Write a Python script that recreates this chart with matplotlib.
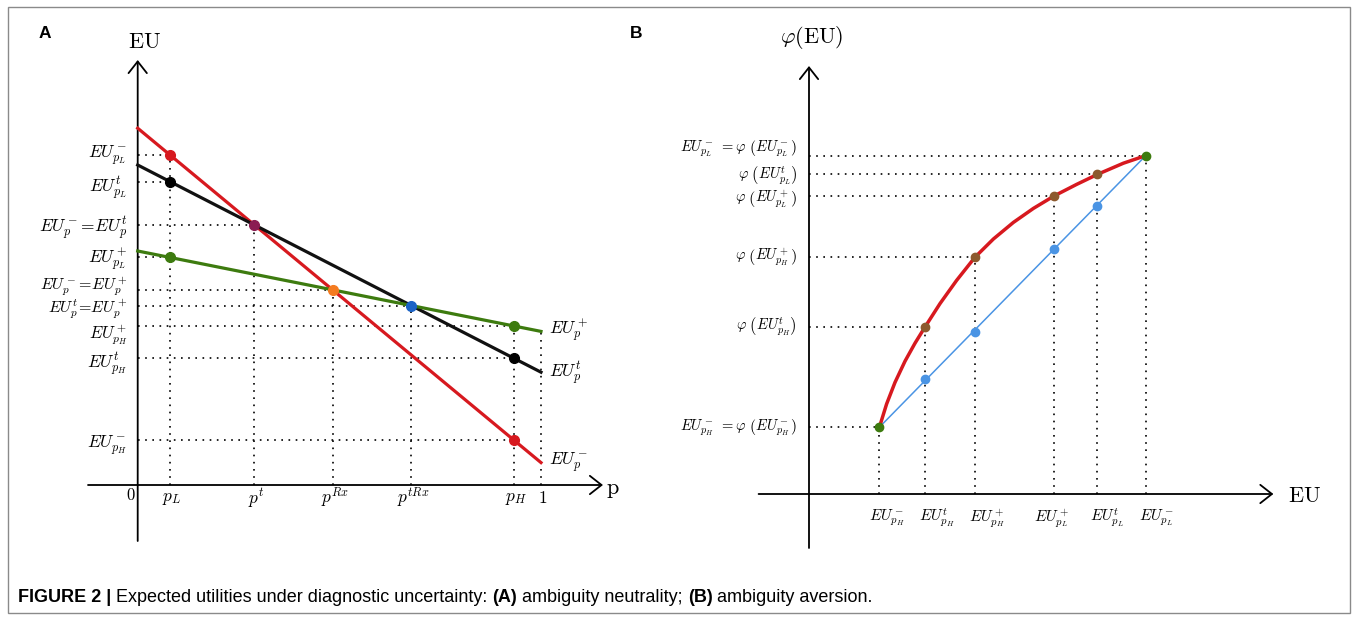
import matplotlib
matplotlib.use('Agg')
from matplotlib import pyplot as plt
from matplotlib.patches import Rectangle

W, H = 1357, 618

# ---- panel A data: p on [0,1], EU of each option at p=0 and p=1
p_L = 0.080
p_H = 0.932
eu_minus_ends = [0.892, 0.056]   # red, no treatment
eu_treat_ends = [0.800, 0.282]   # black, test
eu_plus_ends = [0.585, 0.384]    # green, treatment

# ---- panel B data
eu_b = [0.176, 0.290, 0.415, 0.612, 0.721, 0.842]
phi_b = [0.167, 0.4175, 0.592, 0.744, 0.799, 0.846]
lin_b = [0.167, 0.287, 0.406, 0.6125, 0.720, 0.846]
curve_eu = [0.176, 0.194, 0.215, 0.240, 0.265, 0.290, 0.3275, 0.369, 0.415,
            0.461, 0.511, 0.561, 0.6125, 0.669, 0.721, 0.786, 0.842]
curve_phi = [0.167, 0.225, 0.279, 0.332, 0.377, 0.4175, 0.476, 0.534, 0.592,
             0.6375, 0.679, 0.714, 0.745, 0.774, 0.799, 0.827, 0.846]

eu_b_labels = [r'$EU^-_{p_H}$', r'$EU^t_{p_H}$', r'$EU^+_{p_H}$',
               r'$EU^+_{p_L}$', r'$EU^t_{p_L}$', r'$EU^-_{p_L}$']
phi_b_labels = [r'$EU^-_{p_H}\ =\varphi\ \left(EU^-_{p_H}\right)$',
                r'$\varphi\ \left(EU^t_{p_H}\right)$',
                r'$\varphi\ \left(EU^+_{p_H}\right)$',
                r'$\varphi\ \left(EU^+_{p_L}\right)$',
                r'$\varphi\ \left(EU^t_{p_L}\right)$',
                r'$EU^-_{p_L}\ =\varphi\ \left(EU^-_{p_L}\right)$']

RED = '#d7191f'
GREEN = '#3d7b0f'
DOT = (0, (1, 3.3))

plt.rcParams['mathtext.fontset'] = 'cm'


def line_at(ends, p):
    return ends[0] + (ends[1] - ends[0]) * p


def cross(a, b):
    p = (a[0] - b[0]) / ((a[0] - a[1]) - (b[0] - b[1]))
    return p, line_at(a, p)


fig = plt.figure(figsize=(W / 100, H / 100), dpi=100)

# ================= panel A =================
axA = fig.add_axes([0, 1 - 560 / H, 660 / W, 560 / H])
axA.set_xlim(-137.7 / 403.3, (660 - 137.7) / 403.3)
axA.set_ylim(-75 / 400, 485 / 400)
axA.axis('off')

p_t, v_t = cross(eu_minus_ends, eu_treat_ends)
p_rx, v_rx = cross(eu_minus_ends, eu_plus_ends)
p_trx, v_trx = cross(eu_treat_ends, eu_plus_ends)

arrow = dict(arrowstyle='->,head_length=0.7,head_width=0.55', lw=1.3,
             color='black', shrinkA=0, shrinkB=0, mutation_scale=12)
axA.annotate('', xy=(0, 1.0625), xytext=(0, -0.14), arrowprops=arrow)
axA.annotate('', xy=(1.1537, 0), xytext=(-0.1232, 0), arrowprops=arrow)

# dotted guides
points_A = [(p_L, line_at(eu_minus_ends, p_L)),
            (p_L, line_at(eu_treat_ends, p_L)),
            (p_t, v_t),
            (p_L, line_at(eu_plus_ends, p_L)),
            (p_rx, v_rx),
            (p_trx, v_trx),
            (p_H, line_at(eu_plus_ends, p_H)),
            (p_H, line_at(eu_treat_ends, p_H)),
            (p_H, line_at(eu_minus_ends, p_H))]
for px, py in points_A:
    axA.plot([0, px], [py, py], color='black', lw=1.2, ls=DOT, zorder=1)
for px, py in [points_A[0], points_A[2], points_A[4], points_A[5], points_A[6],
               (1, eu_plus_ends[1])]:
    axA.plot([px, px], [0, py], color='black', lw=1.2, ls=DOT, zorder=1)

axA.plot([0, 1], eu_minus_ends, color=RED, lw=2.3, zorder=3)
axA.plot([0, 1], eu_treat_ends, color='#111111', lw=2.3, zorder=3)
axA.plot([0, 1], eu_plus_ends, color=GREEN, lw=2.3, zorder=3)

ms = 7
axA.plot([p_L, p_H], [line_at(eu_minus_ends, p_L), line_at(eu_minus_ends, p_H)],
         'o', color=RED, ms=ms, zorder=4)
axA.plot([p_L, p_H], [line_at(eu_treat_ends, p_L), line_at(eu_treat_ends, p_H)],
         'o', color='black', ms=ms, zorder=4)
axA.plot([p_L, p_H], [line_at(eu_plus_ends, p_L), line_at(eu_plus_ends, p_H)],
         'o', color=GREEN, ms=ms, zorder=4)
axA.plot(p_t, v_t, 'o', color='#8b1c52', ms=ms, zorder=4)
axA.plot(p_rx, v_rx, 'o', color='#f47b20', ms=ms, zorder=4)
axA.plot(p_trx, v_trx, 'o', color='#1b63c6', ms=ms, zorder=4)

left_labels_A = [r'$EU^-_{p_L}$', r'$EU^t_{p_L}$', r'$EU_p^-\!=\!EU_p^t$',
                 r'$EU^+_{p_L}$', r'$EU_p^-\!=\!EU_p^+$', r'$EU_p^t\!=\!EU_p^+$',
                 r'$EU^+_{p_H}$', r'$EU^t_{p_H}$', r'$EU^-_{p_H}$']
left_dy = [0, -6, -3, -3, 3, -4, -9, -5, -5]
left_fs = [12.5, 12.5, 12.5, 12.5, 11.5, 11.5, 12, 12.5, 12.5]
for (px, py), lab, dy, fs in zip(points_A, left_labels_A, left_dy, left_fs):
    axA.annotate(lab, xy=(0, py), xytext=(-10, dy), textcoords='offset pixels',
                 ha='right', va='center', fontsize=fs)

right_labels_A = [r'$EU_p^+$', r'$EU_p^t$', r'$EU_p^-$']
for ends, lab in zip([eu_plus_ends, eu_treat_ends, eu_minus_ends], right_labels_A):
    axA.annotate(lab, xy=(1, ends[1]), xytext=(8, 0), textcoords='offset pixels',
                 ha='left', va='center', fontsize=12.5)

tick_p = [p_L, p_t, p_rx, p_trx, p_H, 1]
tick_lab = [r'$p_L$', r'$p^t$', r'$p^{Rx}$', r'$p^{tRx}$', r'$p_H$', r'$1$']
for tp, lab in zip(tick_p, tick_lab):
    axA.annotate(lab, xy=(tp, 0), xytext=(2, -13), textcoords='offset pixels',
                 ha='center', va='center', fontsize=12.5)
axA.annotate(r'$0$', xy=(0, 0), xytext=(-7, -10), textcoords='offset pixels',
             ha='center', va='center', fontsize=12)
axA.text(0.018, 1.1075, r'$\mathrm{EU}$', ha='center', va='center', fontsize=16)
axA.text(1.179, -0.0125, r'$\mathrm{p}$', ha='center', va='center', fontsize=16)

# ================= panel B =================
axB = fig.add_axes([660 / W, 1 - 560 / H, (W - 660) / W, 560 / H])
axB.set_xlim((660 - 809) / 400, (W - 809) / 400)
axB.set_ylim(-66 / 400, 494 / 400)
axB.axis('off')

axB.annotate('', xy=(0, 1.07), xytext=(0, -0.135), arrowprops=arrow)
axB.annotate('', xy=(1.161, 0), xytext=(-0.126, 0), arrowprops=arrow)

for x, y in zip(eu_b, phi_b):
    axB.plot([0, x], [y, y], color='black', lw=1.2, ls=DOT, zorder=1)
    axB.plot([x, x], [0, y], color='black', lw=1.2, ls=DOT, zorder=1)

axB.plot([eu_b[0], eu_b[-1]], [lin_b[0], lin_b[-1]], color='#4a94e4', lw=1.1, zorder=2)
axB.plot(curve_eu, curve_phi, color=RED, lw=2.5, zorder=3)

axB.plot(eu_b[1:-1], lin_b[1:-1], 'o', color='#4a94e4', ms=6, zorder=4)
axB.plot(eu_b[1:-1], phi_b[1:-1], 'o', color='#8c5a2e', ms=6, zorder=4)
axB.plot([eu_b[0], eu_b[-1]], [phi_b[0], phi_b[-1]], 'o', color=GREEN, ms=6, zorder=5)

b_dx = [7, 12, 12, -2, 10, 11]
for x, lab, dx in zip(eu_b, eu_b_labels, b_dx):
    axB.annotate(lab, xy=(x, 0), xytext=(dx, -24), textcoords='offset pixels',
                 ha='center', va='center', fontsize=11)
b_dy = [0, 0, 0, -3, -1, 7]
for y, lab, dy in zip(phi_b, phi_b_labels, b_dy):
    axB.annotate(lab, xy=(0, y), xytext=(-12, dy), textcoords='offset pixels',
                 ha='right', va='center', fontsize=10.5)

axB.text(0.006, 1.1425, r'$\varphi(\mathrm{EU})$', ha='center', va='center', fontsize=16)
axB.text(1.24, -0.005, r'$\mathrm{EU}$', ha='center', va='center', fontsize=16)

# ================= frame, panel letters, caption =================
fig.patches.append(Rectangle((8 / W, 1 - 613 / H), 1342 / W, 606 / H,
                             transform=fig.transFigure, fill=False,
                             edgecolor='#8a8a8a', lw=1.0))
fig.text(45 / W, 1 - 33 / H, 'A', fontsize=12.5, fontweight='bold',
         family='Liberation Sans', ha='center', va='center')
fig.text(636 / W, 1 - 33 / H, 'B', fontsize=12.5, fontweight='bold',
         family='Liberation Sans', ha='center', va='center')

caption = [('FIGURE 2 |', 'bold'),
           (' Expected utilities under diagnostic uncertainty: ', 'normal'),
           ('(A)', 'bold'),
           (' ambiguity neutrality; ', 'normal'),
           ('(B)', 'bold'),
           (' ambiguity aversion.', 'normal')]
renderer = fig.canvas.get_renderer()
x = 18
for s, wgt in caption:
    t = fig.text(x / W, 1 - 598 / H, s, fontsize=13, fontweight=wgt,
                 family='Liberation Sans', ha='left', va='center')
    x += t.get_window_extent(renderer).width

fig.savefig('out.png', dpi=100)
